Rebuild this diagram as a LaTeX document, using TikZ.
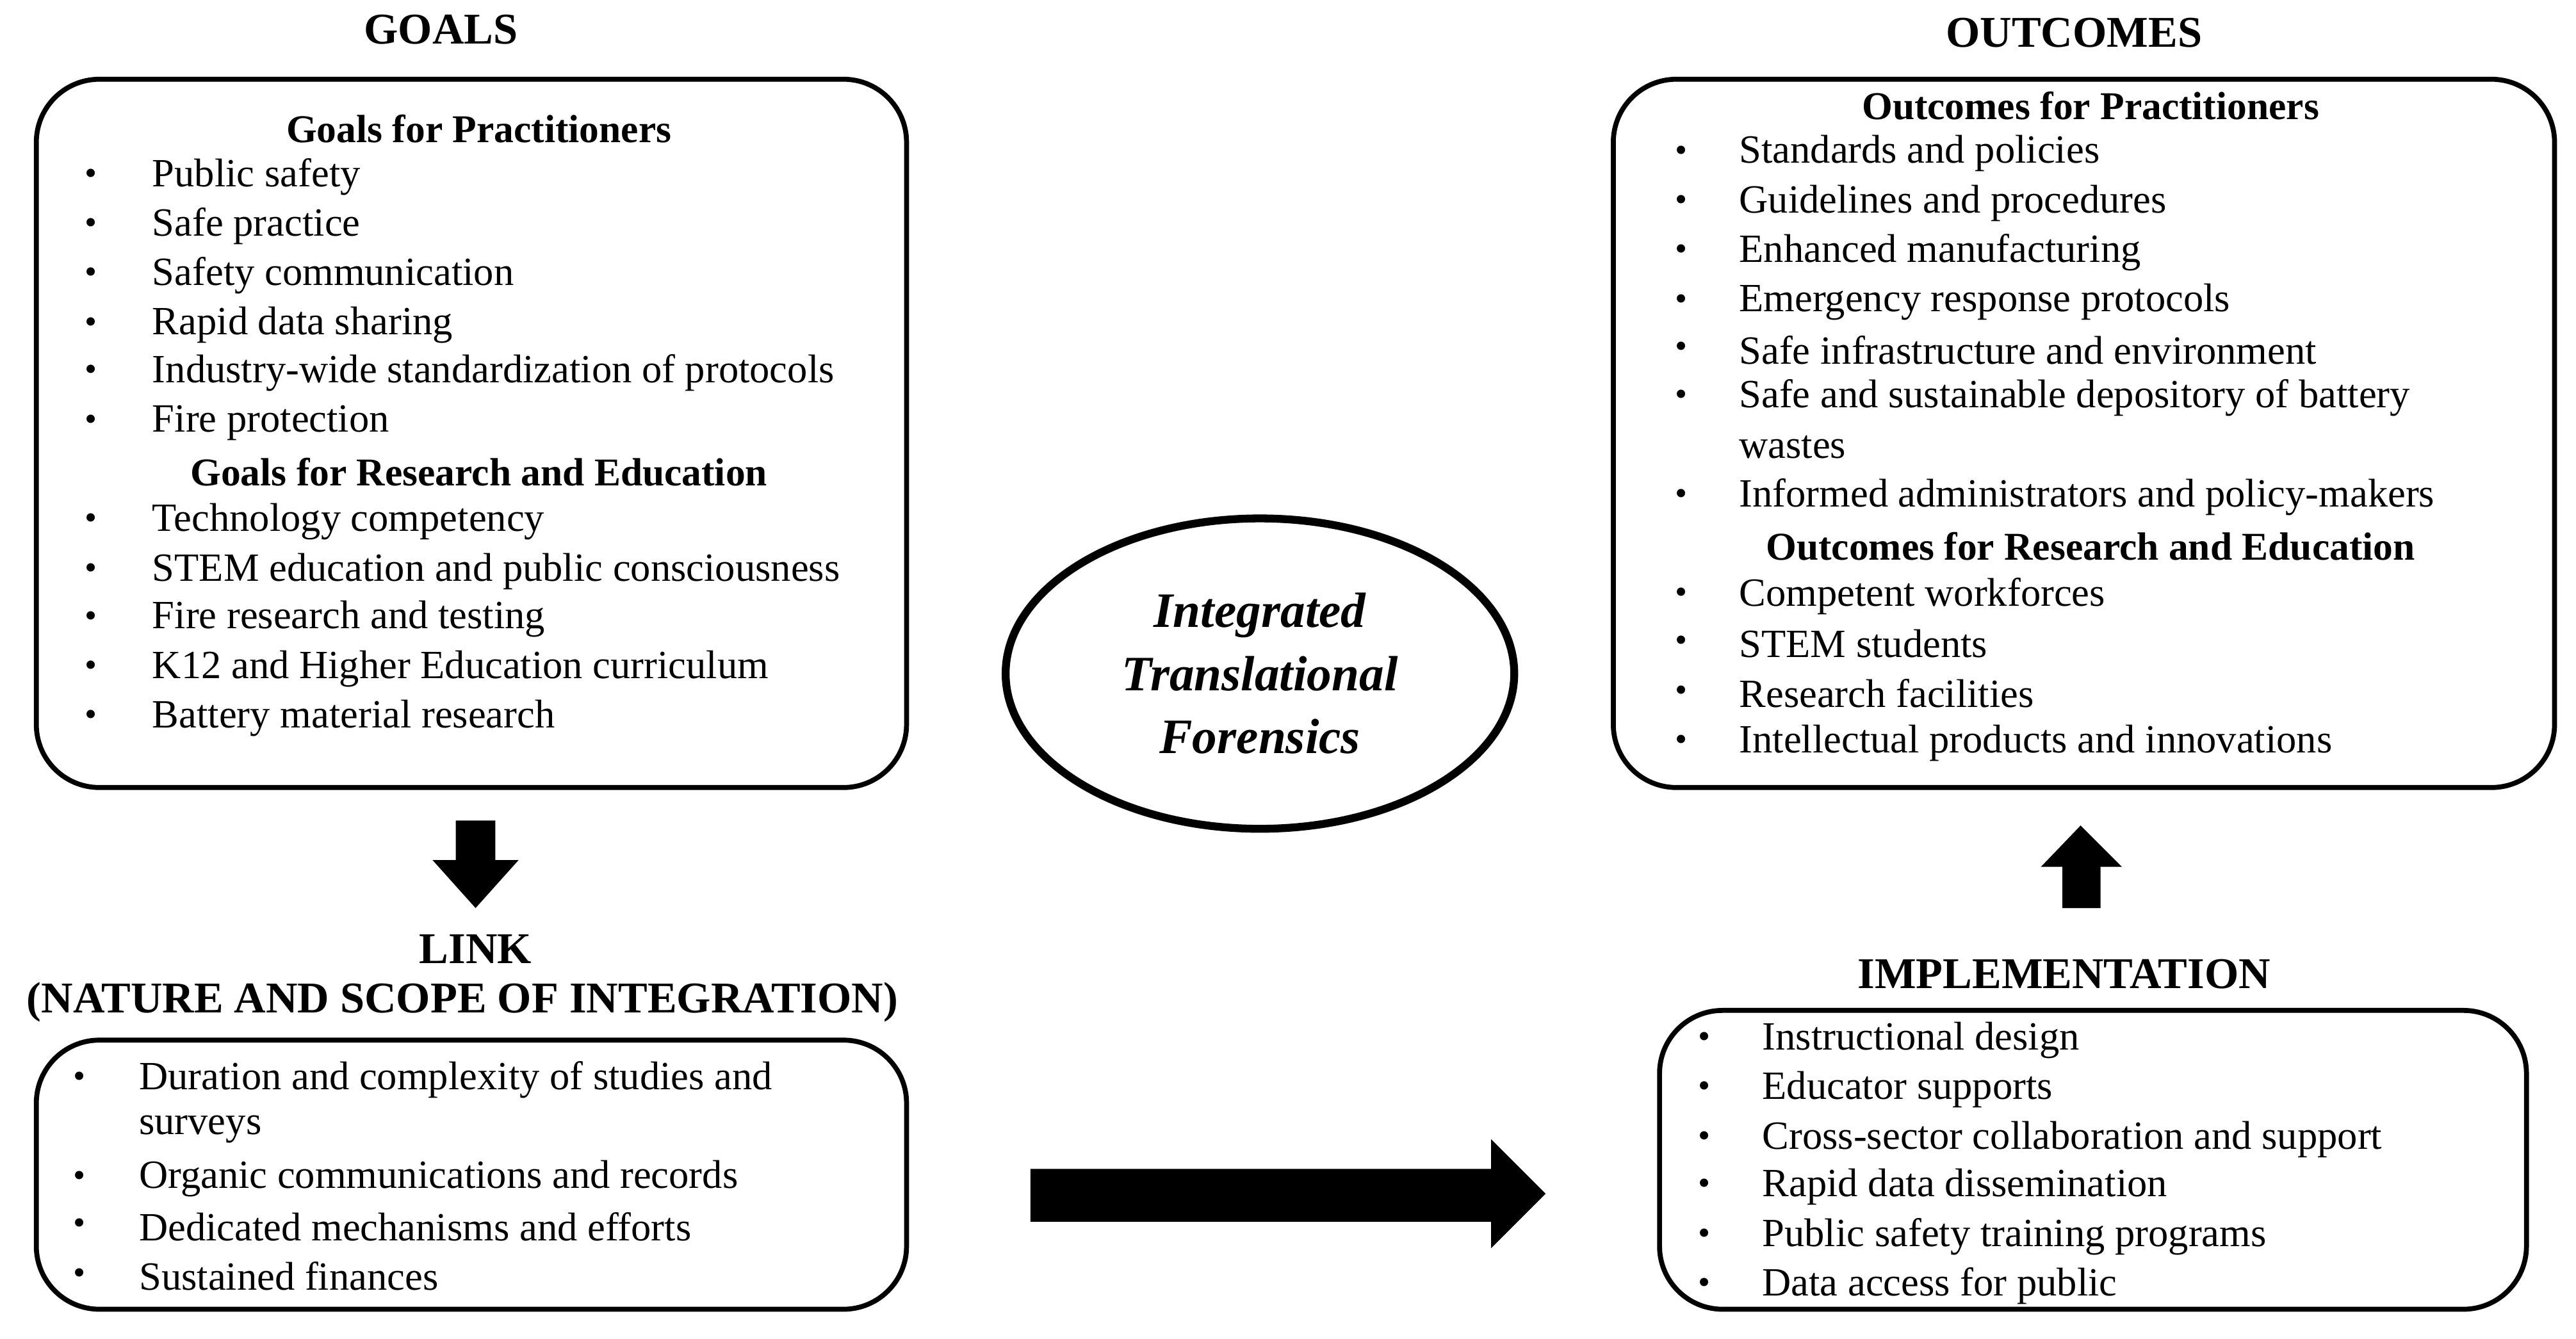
\documentclass[tikz,border=0pt]{standalone}
\usepackage{fontspec}
\setmainfont{Liberation Serif}
\begin{document}
\begin{tikzpicture}[x=0.02578cm,y=-0.02578cm,
  box/.style={draw,line width=2.2pt,rounded corners=28pt},
  ttl/.style={font=\fontsize{19.5}{22}\selectfont\bfseries},
  hd/.style={font=\fontsize{17.5}{20}\selectfont\bfseries},
  it/.style={anchor=west,font=\fontsize{17.8}{20}\selectfont,inner sep=0},
  bl/.style={font=\fontsize{15.5}{18}\selectfont,inner sep=0}]
\useasboundingbox (0,0) rectangle (1560,811);
\newcommand{\items}[3]{% x bullet, x text, list of y/text
  \foreach \yy/\tt in {#3} {\node[bl] at (#1,\yy) {•}; \node[it] at (#2,\yy) {\tt};}}
% Goals
\node[ttl] (gt) at (267,18) {GOALS};
\draw[box] (22,48) rectangle (549,477);
\node[hd] (gp) at (290,78) {Goals for Practitioners};
\items{55}{92}{107/Public safety,137/Safe practice,167/Safety communication,197/Rapid data sharing,226/Industry-wide standardization of protocols,256/Fire protection}
\node[hd] (gr) at (290,286) {Goals for Research and Education};
\items{55}{92}{316/Technology competency,346/STEM education and public consciousness,375/Fire research and testing,405/K12 and Higher Education curriculum,435/Battery material research}
% Down arrow
\fill (276,497) -- (300,497) -- (300,521) -- (314,521) -- (288,550) -- (262,521) -- (276,521) -- cycle;
% Link
\node[ttl] (lt) at (288,575) {LINK};
\node[ttl] (lt2) at (280,607) {(NATURE AND SCOPE OF INTEGRATION)};
\draw[box] (22,630) rectangle (549,793);
\items{48}{84}{654/Duration and complexity of studies and,714/Organic communications and records,743/Dedicated mechanisms and efforts,773/Sustained finances}
\node[it] (lc) at (84,684) {surveys};
% Ellipse
\draw[line width=3.5pt] (763,408) ellipse (154 and 94);
\node[font=\fontsize{22}{28}\selectfont\bfseries\itshape,align=center] (c) at (763,408) {Integrated\\Translational\\Forensics};
% Right arrow
\fill (624,708) -- (903,708) -- (903,690) -- (936,723) -- (903,756) -- (903,740) -- (624,740) -- cycle;
% Outcomes
\node[ttl] (ot) at (1256,20) {OUTCOMES};
\draw[box] (977,48) rectangle (1547,477);
\node[hd] (op) at (1266,64) {Outcomes for Practitioners};
\items{1018}{1053}{93/Standards and policies,123/Guidelines  and procedures,153/Enhanced manufacturing,183/Emergency response protocols,212/Safe infrastructure  and environment,241/Safe and sustainable  depository of battery,301/Informed administrators and policy-makers}
\node[it] (oc) at (1053,271) {wastes};
\node[hd] (or) at (1266,331) {Outcomes for Research and Education};
\items{1018}{1053}{361/Competent workforces,390/STEM students,420/Research facilities,450/Intellectual  products and innovations}
% Up arrow
\fill (1249,550) -- (1272,550) -- (1272,525) -- (1285,525) -- (1260,500) -- (1236,525) -- (1249,525) -- cycle;
% Implementation
\node[ttl] (im) at (1250,590) {IMPLEMENTATION};
\draw[box] (1005,612) rectangle (1530,793);
\items{1032}{1067}{630/Instructional design,660/Educator supports,690/Cross-sector collaboration and support,719/Rapid data dissemination,749/Public safety training programs,779/Data access for public}
\end{tikzpicture}
\end{document}
